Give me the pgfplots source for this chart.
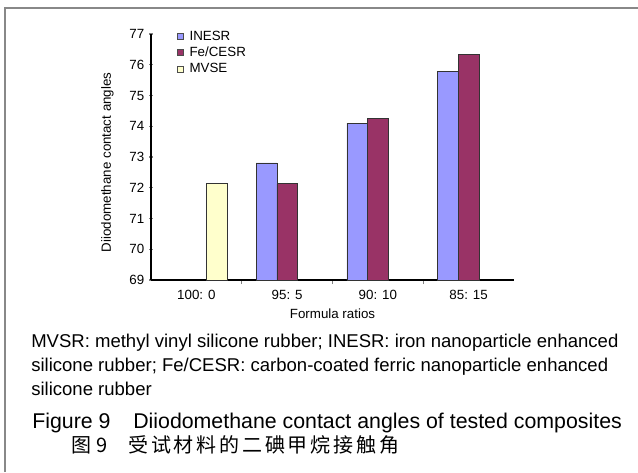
\documentclass[border=0pt]{standalone}
\usepackage{pgfplots}
\pgfplotsset{compat=1.18}
\usepackage{fontspec}
\setmainfont{Liberation Sans}
\newfontfamily\cjk{Noto Sans CJK SC}
\definecolor{inesr}{HTML}{9999FF}
\definecolor{fecesr}{HTML}{993366}
\definecolor{mvse}{HTML}{FFFFCC}
\definecolor{frame}{HTML}{888888}
\newcommand\cjsp{\hspace{2.1pt}}
\begin{document}
\begin{tikzpicture}[x=0.75pt,y=0.75pt]
\path[use as bounding box] (0,0) rectangle (638,472);
\draw[frame, line width=1.5pt] (5,0) -- (5,464) -- (638,464);
\begin{axis}[
  at={(113.25pt,144pt)}, anchor=south west,
  scale only axis, width=272.25pt, height=184.5pt,
  xmin=-0.5, xmax=3.5, ymin=69, ymax=77,
  axis x line=bottom, axis y line=left,
  axis line style={-, line width=1.1pt},
  xtick={0,1,2,3},
  xticklabels={100: 0, 95: 5, 90: 10, 85: 15},
  minor xtick={0.5,1.5,2.5},
  major x tick style={draw=none},
  minor x tick style={line width=0.8pt},
  minor tick length=3pt,
  xtick align=inside,
  ytick={69,70,...,77},
  ytick align=center,
  major tick length=3pt,
  major y tick style={line width=0.8pt},
  /pgf/number format/assume math mode=true,
  tick label style={font=\fontsize{10pt}{12pt}\selectfont},
  label style={font=\fontsize{10pt}{12pt}\selectfont},
  xticklabel style={yshift=-1pt},
  xlabel={Formula ratios},
  ylabel={Diiodomethane contact angles},
  xlabel style={yshift=0pt},
  ylabel style={yshift=5pt, xshift=-4pt},
  ybar, bar width=0.228,
  legend style={draw=none, fill=none, at={(0.06,1.035)}, anchor=north west,
    font=\fontsize{10pt}{12pt}\selectfont, row sep=-0.5pt,
    legend cell align=left},
  legend image code/.code={\draw[#1, draw=black!70] (0pt,-2.2pt) rectangle (4.5pt,2.3pt); \path (7pt,0);},
]
\addplot[fill=inesr, draw=black!80, bar shift=-0.228] coordinates {(1,72.81) (2,74.10) (3,75.79)};
\addlegendentry{INESR}
\addplot[fill=fecesr, draw=black!80, bar shift=0] coordinates {(1,72.13) (2,74.26) (3,76.34)};
\addlegendentry{Fe/CESR}
\addplot[fill=mvse, draw=black!80, bar shift=0.228] coordinates {(0,72.13)};
\addlegendentry{MVSE}
\end{axis}
\begin{scope}[font=\fontsize{13.9pt}{16pt}\selectfont]
\node[anchor=base west, inner sep=0] at (31,472-347) {MVSR: methyl vinyl silicone rubber; INESR: iron nanoparticle enhanced};
\node[anchor=base west, inner sep=0] at (31,472-371) {silicone rubber; Fe/CESR: carbon-coated ferric nanoparticle enhanced};
\node[anchor=base west, inner sep=0] at (31,472-395) {silicone rubber};
\end{scope}
\begin{scope}[font=\fontsize{16pt}{18pt}\selectfont]
\node[anchor=base west, inner sep=0] at (32,472-428) {Figure 9};
\node[anchor=base west, inner sep=0] at (133,472-428) {Diiodomethane contact angles of tested composites};
\end{scope}
\begin{scope}[font=\fontsize{15pt}{17pt}\selectfont]
\node[anchor=base west, inner sep=0] at (71,472-452) {\cjk 图\cjsp\cjsp 9};
\node[anchor=base west, inner sep=0] at (128,472-452) {\cjk 受\cjsp 试\cjsp 材\cjsp 料\cjsp 的\cjsp 二\cjsp 碘\cjsp 甲\cjsp 烷\cjsp 接\cjsp 触\cjsp 角};
\end{scope}
\end{tikzpicture}
\end{document}
